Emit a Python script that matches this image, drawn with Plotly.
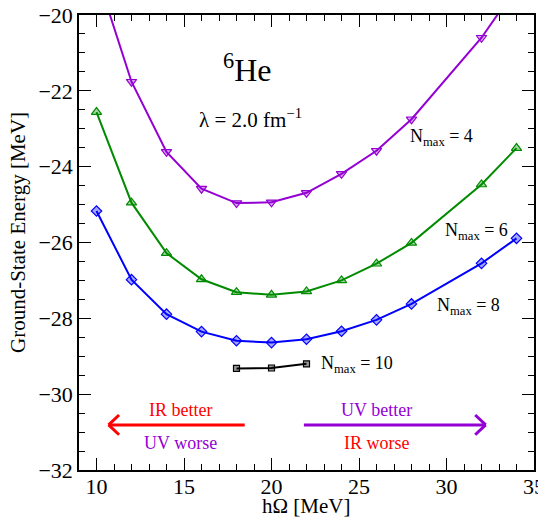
import plotly.graph_objects as go

hw = [10, 12, 14, 16, 18, 20, 22, 24, 26, 28, 32, 34]
e_n4 = [-18.9, -21.76, -23.61, -24.58, -24.96, -24.94, -24.69, -24.19, -23.58, -22.75, -20.6, -19.27]
e_n6 = [-22.56, -24.95, -26.28, -26.97, -27.31, -27.38, -27.29, -27.0, -26.56, -26.01, -24.47, -23.51]
e_n8 = [-25.17, -26.98, -27.89, -28.35, -28.59, -28.64, -28.55, -28.34, -28.04, -27.62, -26.55, -25.89]
hw_n10 = [18, 20, 22]
e_n10 = [-29.32, -29.31, -29.20]

VIOLET = "#9400d3"
GREEN = "#008b00"
BLUE = "#0000ff"
RED = "#ff0000"
FONT = "Liberation Serif, Times New Roman, serif"

fig = go.Figure()

def add(x, y, color, fill, symbol, size):
    fig.add_trace(go.Scatter(
        x=x, y=y, mode="lines+markers",
        line=dict(color=color, width=2),
        marker=dict(symbol=symbol, size=size, color=fill,
                    line=dict(color=color, width=1.2)),
        showlegend=False, cliponaxis=True))

add(hw, e_n4, VIOLET, "rgba(148,0,211,0.35)", "triangle-down", 9)
add(hw, e_n6, GREEN, "rgba(0,139,0,0.35)", "triangle-up", 9)
add(hw, e_n8, BLUE, "rgba(0,0,255,0.35)", "diamond", 8)
add(hw_n10, e_n10, "#000000", "rgba(0,0,0,0.4)", "square", 6)

ann = []
def txt(x, y, s, size, color="black", xanchor="center", xref="x", yref="y", angle=0):
    ann.append(dict(x=x, y=y, xref=xref, yref=yref, text=s, showarrow=False,
                    font=dict(family=FONT, size=size, color=color),
                    xanchor=xanchor, yanchor="middle", textangle=angle))

txt(18.6, -21.41, "<sup>6</sup>He", 32)
txt(18.8, -22.73, "λ = 2.0 fm<sup>−1</sup>", 21)
txt(27.8, -23.22, "N<sub>max</sub> = 4", 18, xanchor="left")
txt(29.8, -25.72, "N<sub>max</sub> = 6", 18, xanchor="left")
txt(29.35, -27.69, "N<sub>max</sub> = 8", 18, xanchor="left")
txt(22.72, -29.22, "N<sub>max</sub> = 10", 18, xanchor="left")
txt(14.8, -30.41, "IR better", 18, RED)
txt(14.8, -31.29, "UV worse", 18, VIOLET)
txt(26.0, -30.41, "UV better", 18, VIOLET)
txt(26.0, -31.29, "IR worse", 18, RED)
# axis titles
txt(0.5, -0.079, "hΩ [MeV]", 21, xref="paper", yref="paper")
txt(-0.134, 0.521, "Ground-State Energy [MeV]", 21, xref="paper", yref="paper", angle=-90)

shapes = []
def arrow(x0, x1, y, color):
    shapes.append(dict(type="line", xref="x", yref="y", x0=x0, x1=x1, y0=y, y1=y,
                       line=dict(color=color, width=3)))
    d = 1 if x1 > x0 else -1
    hx, hy = 0.6, 0.26
    for s in (1, -1):
        shapes.append(dict(type="line", xref="x", yref="y", x0=x1, y0=y,
                           x1=x1 - d * hx, y1=y + s * hy,
                           line=dict(color=color, width=3)))

arrow(18.47, 10.69, -30.81, RED)
arrow(21.85, 32.24, -30.81, VIOLET)

axis_common = dict(
    showline=True, linecolor="black", linewidth=1.5, mirror="allticks",
    ticks="inside", ticklen=12, tickwidth=1.2, tickcolor="black",
    showgrid=False, zeroline=False, automargin=False,
    ticklabeloverflow="allow",
    tickfont=dict(family=FONT, size=22, color="black"),
)

# page body has an 8px default margin, so the figure is 8px smaller
fig.update_layout(
    width=538, height=510,
    margin=dict(l=71, r=12, t=7, b=48),
    paper_bgcolor="white", plot_bgcolor="white",
    font=dict(family=FONT, color="black"),
    xaxis=dict(range=[9, 35], dtick=5, tick0=10, ticklabelstandoff=-4,
               minor=dict(ticks="inside", dtick=1, ticklen=6, tickcolor="black", tickwidth=1),
               **axis_common),
    yaxis=dict(range=[-32, -20], dtick=2,
               minor=dict(ticks="inside", dtick=0.5, ticklen=6, tickcolor="black", tickwidth=1),
               tickformat="d",
               **axis_common),
    annotations=ann, shapes=shapes,
)

fig.write_html("out.html")
